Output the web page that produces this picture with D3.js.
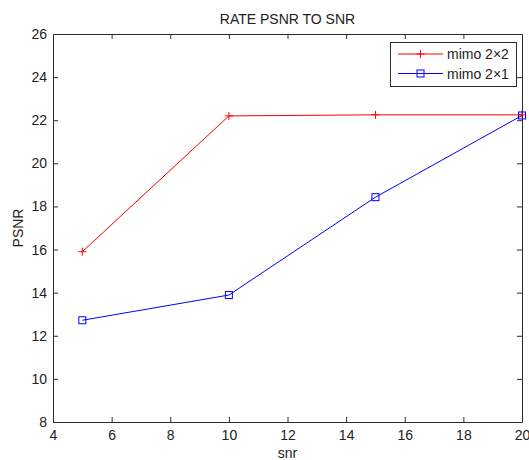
<!DOCTYPE html>
<html><head><meta charset="utf-8">
<script src="https://cdn.jsdelivr.net/npm/d3@7"></script>
<style>
body{margin:0;background:#fff;}
text{font-family:"Liberation Sans",Arial,sans-serif;}
</style></head>
<body><svg id="c" width="529" height="460"></svg>
<script>
const snr = [5, 10, 15, 20];
const mimo22 = [15.9, 22.2, 22.25, 22.25];
const mimo21 = [12.72, 13.89, 18.43, 22.22];
const xTicks = [4, 6, 8, 10, 12, 14, 16, 18, 20];
const yTicks = [8, 10, 12, 14, 16, 18, 20, 22, 24, 26];
const seriesNames = ["mimo 2\u00d72", "mimo 2\u00d71"];
const seriesColors = ["#ff0000", "#0000ff"];

const svg = d3.select("#c");
const L = 53, R = 522, T = 34, B = 422;
const x = d3.scaleLinear().domain([4, 20]).range([L, R]);
const y = d3.scaleLinear().domain([8, 26]).range([B, T]);
const axisColor = "#2b2b2b";
const fs = 14;

function styleAxis(g){
  g.select(".domain").attr("stroke", axisColor);
  g.selectAll(".tick line").attr("stroke", axisColor);
  g.selectAll(".tick text").attr("fill", "#222").style("font-size", fs + "px").style("font-family", "Liberation Sans, Arial, sans-serif");
}
svg.append("g").attr("transform", `translate(0,${B})`)
  .call(d3.axisBottom(x).tickValues(xTicks).tickSize(-5).tickSizeOuter(0).tickPadding(8).tickFormat(d3.format("d")))
  .call(styleAxis);
svg.append("g").attr("transform", `translate(0,${T})`)
  .call(d3.axisTop(x).tickValues(xTicks).tickSize(-5).tickSizeOuter(0).tickFormat(""))
  .call(styleAxis);
svg.append("g").attr("transform", `translate(${L},0)`)
  .call(d3.axisLeft(y).tickValues(yTicks).tickSize(-5).tickSizeOuter(0).tickPadding(6).tickFormat(d3.format("d")))
  .call(styleAxis);
svg.append("g").attr("transform", `translate(${R},0)`)
  .call(d3.axisRight(y).tickValues(yTicks).tickSize(-5).tickSizeOuter(0).tickFormat(""))
  .call(styleAxis);

svg.append("text").attr("x", (L + R) / 2).attr("y", 24).attr("text-anchor", "middle")
  .style("font-size", fs + "px").attr("fill", "#222").text("RATE PSNR TO SNR");
svg.append("text").attr("x", (L + R) / 2).attr("y", 458).attr("text-anchor", "middle")
  .style("font-size", fs + "px").attr("fill", "#222").text("snr");
svg.append("text").attr("transform", `translate(23,${(T + B) / 2}) rotate(-90)`).attr("text-anchor", "middle")
  .style("font-size", fs + "px").attr("fill", "#222").text("PSNR");

const line = d3.line().x((d, i) => x(snr[i])).y(d => y(d));
const data = [mimo22, mimo21];

function plusMarker(g, cx, cy, color){
  g.append("path").attr("d", `M${cx - 4},${cy}H${cx + 4}M${cx},${cy - 4}V${cy + 4}`)
    .attr("stroke", color).attr("stroke-width", 1).attr("fill", "none");
}
function squareMarker(g, cx, cy, color){
  g.append("rect").attr("x", cx - 3.5).attr("y", cy - 3.5).attr("width", 7).attr("height", 7)
    .attr("stroke", color).attr("fill", "none").attr("stroke-width", 1);
}
const markers = [plusMarker, squareMarker];

data.forEach((s, k) => {
  svg.append("path").datum(s).attr("d", line).attr("fill", "none")
    .attr("stroke", seriesColors[k]).attr("stroke-width", 1);
  const g = svg.append("g");
  s.forEach((v, i) => markers[k](g, x(snr[i]), y(v), seriesColors[k]));
});

// legend
const lg = svg.append("g");
lg.append("rect").attr("x", 390.5).attr("y", 42.5).attr("width", 126).attr("height", 44)
  .attr("fill", "#fff").attr("stroke", axisColor);
const rows = [54, 73.5];
seriesNames.forEach((n, k) => {
  lg.append("line").attr("x1", 398).attr("x2", 443).attr("y1", rows[k]).attr("y2", rows[k])
    .attr("stroke", seriesColors[k]);
  markers[k](lg, 420.5, rows[k], seriesColors[k]);
  lg.append("text").attr("x", 447).attr("y", rows[k] + 5).style("font-size", fs + "px")
    .attr("fill", "#222").text(n);
});
</script></body></html>
